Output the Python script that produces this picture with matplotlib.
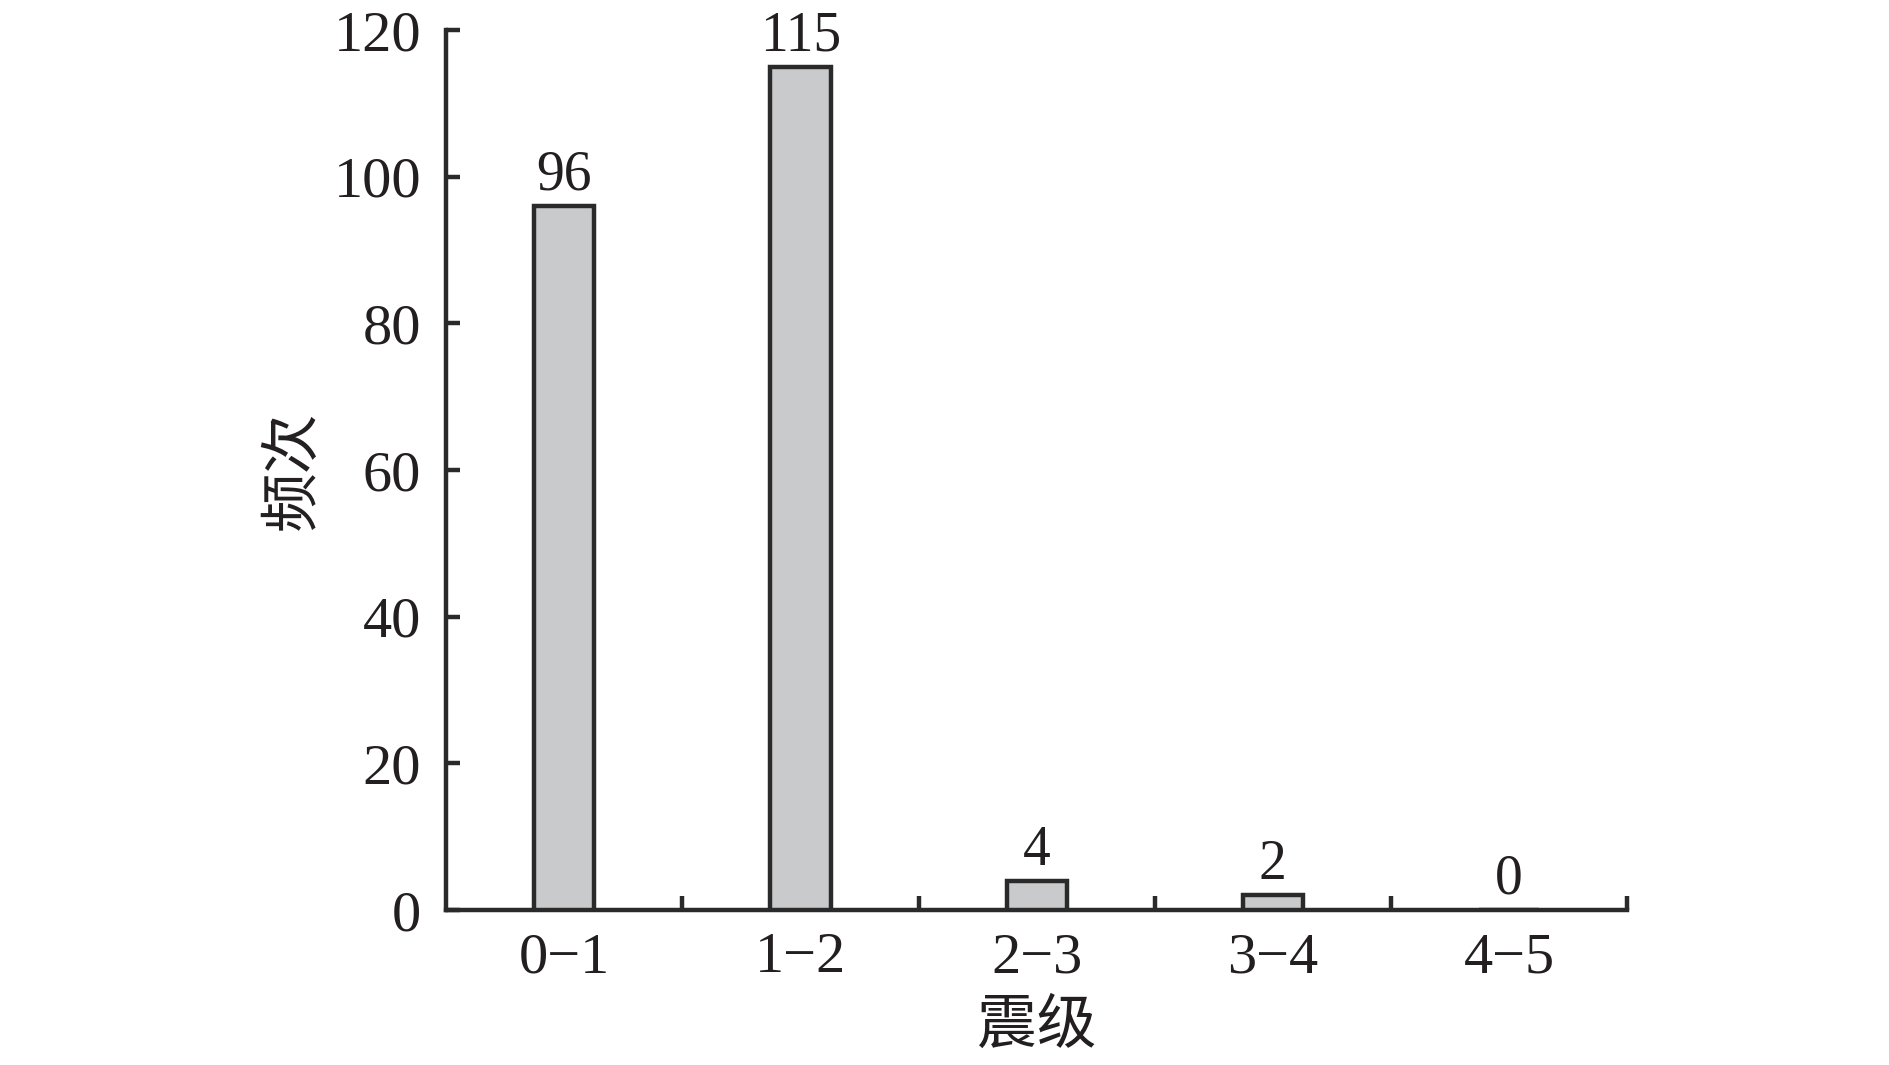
import matplotlib
matplotlib.use("Agg")
import matplotlib.pyplot as plt
import numpy as np

categories = ["0\u22121", "1\u22122", "2\u22123", "3\u22124", "4\u22125"]
counts = [96, 115, 4, 2, 0]
yticks = [0, 20, 40, 60, 80, 100, 120]

serif = ["Liberation Serif", "DejaVu Serif"]
cjk = ["Noto Sans CJK SC", "DejaVu Sans"]

fig = plt.figure(figsize=(18.9, 10.65), dpi=100)
ax = fig.add_axes([0.236, 0.1455, 0.625, 0.8263])

x = np.arange(len(categories))
ax.bar(x, counts, width=0.255, color="#c9cacc", edgecolor="#2a2a2a",
       linewidth=3.2, zorder=3)

for xi, v in zip(x, counts):
    ax.annotate(str(v), (xi, v), xytext=(0, 3), textcoords="offset points",
                ha="center", va="bottom", fontsize=40, family=serif,
                color="#231f20")

ax.set_xlim(-0.5, len(categories) - 0.5)
ax.set_ylim(0, 120)
ax.set_yticks(yticks)
ax.set_yticklabels([str(t) for t in yticks], family=serif, fontsize=42,
                   color="#231f20")
ax.set_xticks(x)
ax.set_xticklabels(categories, family=serif, fontsize=42, color="#231f20")
ax.set_xticks(np.arange(0.5, len(categories), 1.0), minor=True)

ax.tick_params(axis="x", which="major", length=0, pad=16)
ax.tick_params(axis="x", which="minor", direction="in", length=10,
               width=3.2, color="#2a2a2a")
ax.tick_params(axis="y", which="major", direction="in", length=10,
               width=3.2, color="#2a2a2a", pad=18)

for s in ["top", "right"]:
    ax.spines[s].set_visible(False)
for s in ["left", "bottom"]:
    ax.spines[s].set_linewidth(3.2)
    ax.spines[s].set_color("#2a2a2a")

ax.set_xlabel("震级", family=cjk, fontsize=43, color="#231f20", labelpad=8)
ax.set_ylabel("频次", family=cjk, fontsize=43, color="#231f20", labelpad=7)

fig.savefig("out.png", dpi=100, facecolor="white")
